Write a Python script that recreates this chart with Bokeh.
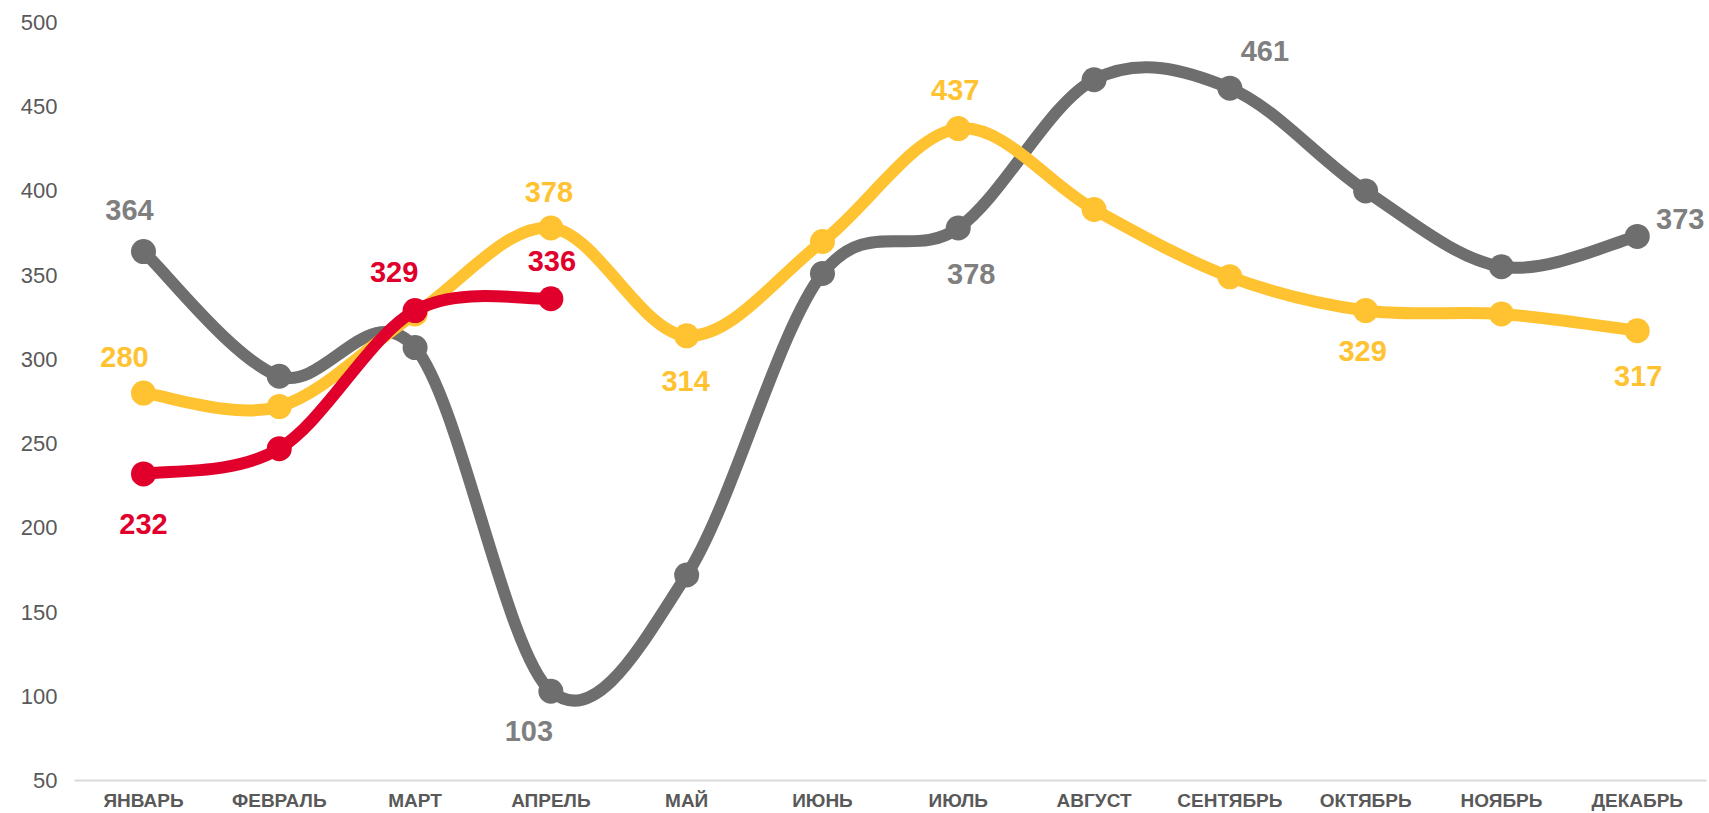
from bokeh.plotting import figure
from bokeh.models import ColumnDataSource, FixedTicker, Range1d
from bokeh.core.properties import value
from bokeh.embed import file_html
from bokeh.resources import INLINE

# ---------------- data ----------------
months = ["ЯНВАРЬ", "ФЕВРАЛЬ", "МАРТ", "АПРЕЛЬ", "МАЙ", "ИЮНЬ",
          "ИЮЛЬ", "АВГУСТ", "СЕНТЯБРЬ", "ОКТЯБРЬ", "НОЯБРЬ", "ДЕКАБРЬ"]
series_gray = [364, 290, 307, 103, 172, 351, 378, 466, 461, 400, 355, 373]
series_yellow = [280, 272, 327, 378, 314, 370, 437, 389, 349, 329, 327, 317]
series_red = [232, 247, 329, 336]
y_ticks = [50, 100, 150, 200, 250, 300, 350, 400, 450, 500]

# which points carry a data label
gray_labelled = [0, 3, 6, 8, 11]
yellow_labelled = [0, 3, 4, 6, 9, 11]
red_labelled = [0, 2, 3]

# ---------------- styles ----------------
GRAY = "#6e6e6e"
GRAY_LABEL = "#7f7f7f"
YELLOW = "#ffc331"
RED = "#e0002b"
FONT = "Liberation Sans"

# label offsets in screen px: (dx right, dy up)
gray_off = [(-14, 42), (-22, -40), (13, -46), (35, 37), (43, 17)]
yellow_off = [(-19, 36), (-2, 36), (-1, -45), (-3, 39), (-3, -40), (1, -45)]
red_off = [(0, -50), (-21, 39), (1, 38)]

p = figure(width=1709, height=813, output_backend="svg", toolbar_location=None,
           x_range=Range1d(0.492, 12.51), y_range=Range1d(50, 500),
           min_border_left=74, min_border_right=3, min_border_top=22,
           min_border_bottom=0)
p.outline_line_color = None
p.grid.visible = False
p.background_fill_color = "white"
p.border_fill_color = "white"

# axes
p.xaxis.ticker = FixedTicker(ticks=list(range(1, len(months) + 1)))
p.xaxis.major_label_overrides = {i + 1: m for i, m in enumerate(months)}
p.xaxis.axis_line_color = "#d9d9d9"
p.xaxis.axis_line_width = 2
p.xaxis.major_tick_line_color = None
p.xaxis.minor_tick_line_color = None
p.xaxis.major_label_standoff = 3
p.xaxis.major_label_text_font = FONT
p.xaxis.major_label_text_font_style = "bold"
p.xaxis.major_label_text_font_size = "19px"
p.xaxis.major_label_text_color = "#595959"

p.yaxis.ticker = FixedTicker(ticks=y_ticks)
p.yaxis.axis_line_color = None
p.yaxis.major_tick_line_color = None
p.yaxis.minor_tick_line_color = None
p.yaxis.major_label_standoff = 11
p.yaxis.major_label_text_font = FONT
p.yaxis.major_label_text_font_size = "22px"
p.yaxis.major_label_text_color = "#595959"


def smooth_segments(vals):
    """Excel-like smoothed line: Catmull-Rom converted to cubic Bezier."""
    n = len(vals)
    pts = [(i + 1, v) for i, v in enumerate(vals)]
    d = dict(x0=[], y0=[], x1=[], y1=[], cx0=[], cy0=[], cx1=[], cy1=[])
    for i in range(n - 1):
        a = pts[i - 1] if i > 0 else pts[i]
        b = pts[i]
        c = pts[i + 1]
        e = pts[i + 2] if i + 2 < n else pts[i + 1]
        d["x0"].append(b[0]); d["y0"].append(b[1])
        d["x1"].append(c[0]); d["y1"].append(c[1])
        d["cx0"].append(b[0] + (c[0] - a[0]) / 6.0)
        d["cy0"].append(b[1] + (c[1] - a[1]) / 6.0)
        d["cx1"].append(c[0] - (e[0] - b[0]) / 6.0)
        d["cy1"].append(c[1] - (e[1] - b[1]) / 6.0)
    return ColumnDataSource(d)


def draw_series(vals, color, label_color, labelled, offsets):
    src = smooth_segments(vals)
    p.bezier(x0="x0", y0="y0", x1="x1", y1="y1", cx0="cx0", cy0="cy0",
             cx1="cx1", cy1="cy1", source=src, line_color=color,
             line_width=12, line_cap="round")
    xs = list(range(1, len(vals) + 1))
    p.scatter(xs, vals, size=25, marker="circle", fill_color=color,
              line_color=None)
    lsrc = ColumnDataSource(dict(
        x=[xs[i] for i in labelled],
        y=[vals[i] for i in labelled],
        t=[str(vals[i]) for i in labelled],
        dx=[o[0] for o in offsets],
        dy=[-o[1] for o in offsets],
    ))
    p.text(x="x", y="y", text="t", source=lsrc, x_offset="dx", y_offset="dy",
           text_align="center", text_baseline="middle",
           text_font=value(FONT), text_font_style="bold",
           text_font_size="29px", text_color=label_color)


draw_series(series_gray, GRAY, GRAY_LABEL, gray_labelled, gray_off)
draw_series(series_yellow, YELLOW, YELLOW, yellow_labelled, yellow_off)
draw_series(series_red, RED, RED, red_labelled, red_off)

open("out.html", "w").write(file_html(p, INLINE))
